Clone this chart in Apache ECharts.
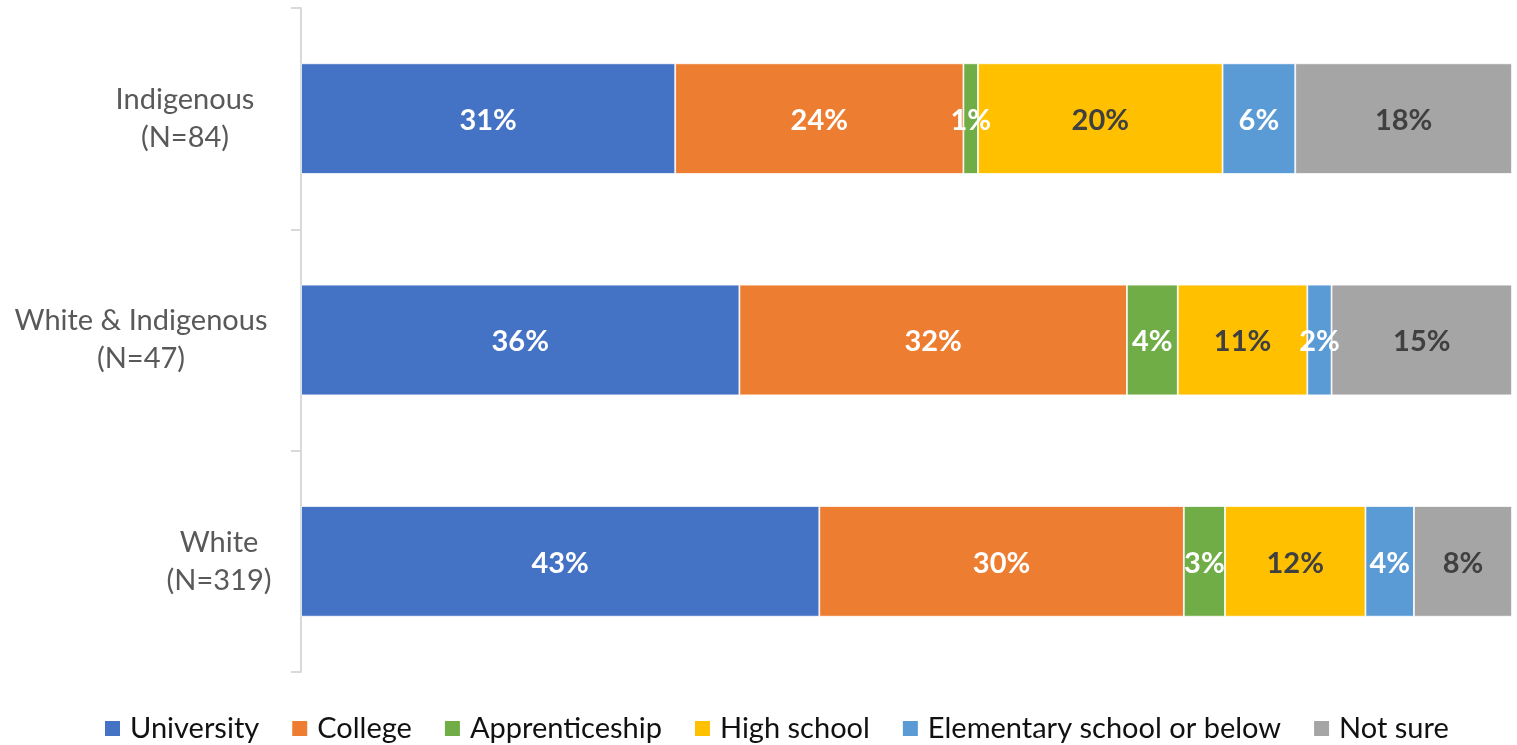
<!DOCTYPE html>
<html>
<head>
<meta charset="utf-8">
<script src="https://cdn.jsdelivr.net/npm/echarts@6/dist/echarts.min.js"></script>
<style>html,body{margin:0;padding:0;background:#fff;}#c{width:1517px;height:745px;}</style>
</head>
<body>
<div id="c"></div>
<script>
const categories = ['Indigenous', 'White & Indigenous', 'White'];
const sampleSizes = ['(N=84)', '(N=47)', '(N=319)'];
const seriesNames = ['University', 'College', 'Apprenticeship', 'High school', 'Elementary school or below', 'Not sure'];
const university = [30.9, 36.2, 42.8];
const college = [23.8, 32.0, 30.1];
const apprenticeship = [1.2, 4.2, 3.4];
const highSchool = [20.2, 10.7, 11.6];
const elementary = [6.0, 2.0, 4.0];
const notSure = [17.9, 14.9, 8.1];

const values = [university, college, apprenticeship, highSchool, elementary, notSure];
const colors = ['#4472C4', '#ED7D31', '#70AD47', '#FFC000', '#5B9BD5', '#A5A5A5'];
const labelColors = ['#FFFFFF', '#FFFFFF', '#FFFFFF', '#404040', '#FFFFFF', '#404040'];
const FONT = 'Lato';

const chart = echarts.init(document.getElementById('c'));
const labelWidths = [170, 258, 102];
const rich = {};
labelWidths.forEach((w, i) => { rich['c' + i] = { width: w, align: 'center', fontSize: 29, fontFamily: FONT, color: '#595959', lineHeight: 38 }; });

chart.setOption({
  animation: false,
  textStyle: { fontFamily: FONT },
  grid: { left: 301, right: 5, top: 8, bottom: 73, containLabel: false },
  legend: {
    top: 709,
    left: 98,
    itemWidth: 17,
    itemHeight: 17,
    itemGap: 31,
    icon: 'rect',
    textStyle: { fontFamily: FONT, fontSize: 29, color: '#111', padding: [0, 0, 0, 4] },
    data: seriesNames
  },
  xAxis: {
    type: 'value', min: 0, max: 100, show: false
  },
  yAxis: {
    type: 'category',
    inverse: true,
    data: categories,
    axisLine: { show: true, lineStyle: { color: '#D9D9D9', width: 2 } },
    axisTick: { show: true, length: 10, lineStyle: { color: '#D9D9D9', width: 2 } },
    axisLabel: {
      margin: 31,
      formatter: (v, i) => '{c' + i + '|' + v + '}\n{c' + i + '|' + sampleSizes[i] + '}',
      rich: rich
    }
  },
  series: seriesNames.map((name, k) => ({
    name: name,
    type: 'bar',
    stack: 'total',
    barWidth: '50%',
    data: values[k],
    itemStyle: { color: colors[k], borderColor: '#fff', borderWidth: 0.8 },
    label: {
      show: true,
      position: 'inside',
      offset: [0, 2],
      formatter: p => Math.round(p.value) + '%',
      color: labelColors[k],
      fontFamily: FONT,
      fontWeight: 'bold',
      fontSize: 29
    }
  }))
});
</script>
</body>
</html>
